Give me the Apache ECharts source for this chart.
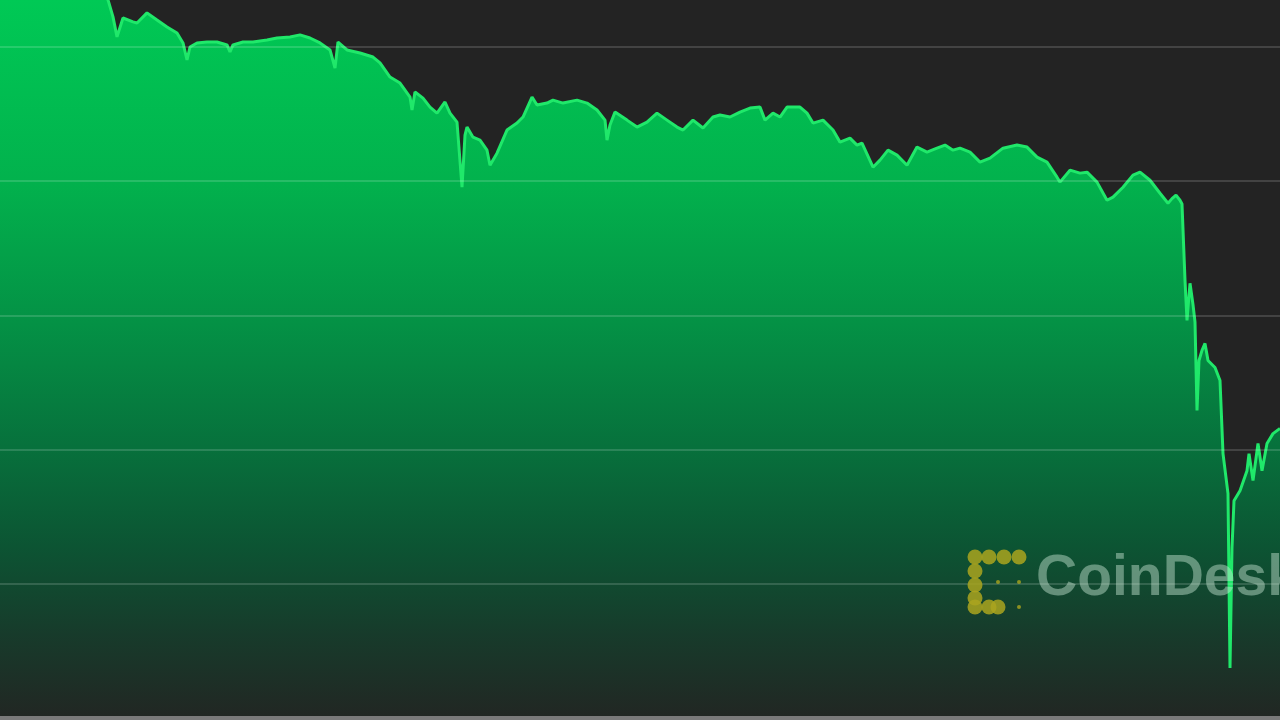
<!DOCTYPE html>
<html>
<head>
<meta charset="utf-8">
<script src="https://cdn.jsdelivr.net/npm/echarts@6/dist/echarts.min.js"></script>
<style>
  html, body { margin: 0; padding: 0; background: #232323; }
  #chart { width: 1280px; height: 720px; }
</style>
</head>
<body>
<div id="chart"></div>
<script>
// time position of each sample (0..1280 = one session)
const timePos = [
  0, 50, 100, 108, 113, 117, 123, 133, 137, 147, 157, 167, 177, 183, 187, 190, 197, 207, 217, 227,
  230, 233, 243, 253, 267, 277, 290, 300, 310, 320, 330, 335, 338, 347, 360, 373, 380, 390, 400, 410,
  412, 415, 423, 430, 437, 445, 450, 457, 462, 465, 467, 473, 480, 487, 490, 497, 507, 517, 523, 532,
  537, 547, 553, 563, 577, 587, 597, 605, 607, 610, 615, 627, 637, 647, 657, 667, 677, 683, 693, 703,
  713, 720, 730, 740, 750, 760, 765, 773, 780, 787, 800, 807, 813, 823, 833, 840, 850, 857, 862, 873,
  880, 888, 897, 907, 917, 927, 937, 945, 953, 960, 970, 980, 990, 1003, 1017, 1027, 1037, 1047, 1057, 1060,
  1070, 1080, 1087, 1097, 1107, 1113, 1123, 1133, 1140, 1150, 1160, 1168, 1172, 1176, 1180, 1182, 1185, 1187, 1190, 1193,
  1195, 1197, 1199, 1202, 1205, 1208, 1215, 1220, 1223, 1228, 1230, 1232, 1234, 1240, 1247, 1249, 1253, 1258, 1262, 1267,
  1273, 1280
];
// price (USD)
const prices = [
  57463, 57440, 57425, 57351, 57224, 57075, 57216, 57187, 57179, 57254, 57201, 57149, 57104, 57030, 56903, 57000, 57030, 57037, 57037, 57015,
  56963, 57015, 57037, 57037, 57052, 57067, 57075, 57090, 57067, 57030, 56978, 56843, 57037, 56978, 56955, 56925, 56881, 56776, 56731, 56627,
  56530, 56664, 56619, 56552, 56507, 56590, 56507, 56440, 55955, 56343, 56403, 56328, 56306, 56231, 56119, 56209, 56381, 56433, 56478, 56627,
  56567, 56582, 56604, 56582, 56604, 56582, 56530, 56455, 56306, 56418, 56515, 56455, 56403, 56440, 56507, 56455, 56403, 56381, 56455, 56396,
  56478, 56493, 56478, 56515, 56545, 56552, 56455, 56507, 56478, 56552, 56552, 56507, 56433, 56455, 56381, 56291, 56321, 56269, 56284, 56104,
  56157, 56231, 56194, 56119, 56254, 56216, 56246, 56269, 56231, 56246, 56216, 56142, 56172, 56246, 56269, 56254, 56179, 56142, 56030, 55993,
  56082, 56060, 56067, 55993, 55858, 55881, 55955, 56045, 56067, 56007, 55910, 55836, 55870, 55896, 55858, 55830, 55261, 54963, 55239, 55080,
  54950, 54291, 54664, 54739, 54791, 54664, 54612, 54515, 53970, 53672, 52373, 53269, 53619, 53694, 53843, 53970, 53769, 54045, 53843, 54045,
  54119, 54157
];
const yMin = 52000, yMax = 57350, yStep = 1000;

const seriesData = timePos.map((t, i) => [t, prices[i]]);

const chart = echarts.init(document.getElementById('chart'), null, { renderer: 'canvas' });

// CoinDesk logo dots
const logoDots = [
  [975, 557], [989, 557], [1004, 557], [1019, 557],
  [975, 571], [975, 585], [975, 598], [975, 607],
  [989, 607], [998, 607],
];
const smallDots = [[998, 582], [1019, 582], [1019, 607]];
const graphics = [];
logoDots.forEach(p => graphics.push({
  type: 'circle', shape: { cx: p[0], cy: p[1], r: 7.5 },
  style: { fill: 'rgba(170,165,30,0.85)' }, z: 100
}));
smallDots.forEach(p => graphics.push({
  type: 'circle', shape: { cx: p[0], cy: p[1], r: 2 },
  style: { fill: 'rgba(170,165,30,0.8)' }, z: 100
}));
graphics.push({
  type: 'text', left: 1036, top: 551, z: 100,
  style: {
    text: 'CoinDesk', fill: 'rgba(205,232,215,0.45)',
    font: 'bold 57px "Liberation Sans", Arial, sans-serif'
  }
});

chart.setOption({
  backgroundColor: '#232323',
  animation: false,
  grid: { left: 0, right: 0, top: 0, bottom: 2, containLabel: false },
  xAxis: {
    type: 'value', min: 0, max: 1280,
    axisLine: { show: true, onZero: false, lineStyle: { color: '#7a7a7a', width: 4 } },
    axisTick: { show: false }, axisLabel: { show: false }, splitLine: { show: false },
    z: 5
  },
  yAxis: {
    type: 'value', min: yMin, max: yMax, interval: yStep,
    axisLine: { show: false }, axisTick: { show: false }, axisLabel: { show: false },
    splitLine: { show: true, showMaxLine: false, lineStyle: { color: 'rgba(255,255,255,0.2)', width: 1.5 } },
    z: 4
  },
  series: [{
    type: 'line',
    data: seriesData,
    showSymbol: false,
    smooth: false,
    z: 2,
    lineStyle: { color: '#20e86a', width: 3 },
    areaStyle: {
      origin: 'start',
      color: {
        type: 'linear', x: 0, y: 0, x2: 0, y2: 720, global: true,
        colorStops: [
          { offset: 0, color: '#00c955' },
          { offset: 0.25, color: '#02b24d' },
          { offset: 0.45, color: '#049145' },
          { offset: 0.62, color: '#07713c' },
          { offset: 0.76, color: '#0c5433' },
          { offset: 0.88, color: '#173b2b' },
          { offset: 1, color: '#222623' }
        ]
      },
      opacity: 1
    }
  }],
  graphic: graphics
});
</script>
</body>
</html>
